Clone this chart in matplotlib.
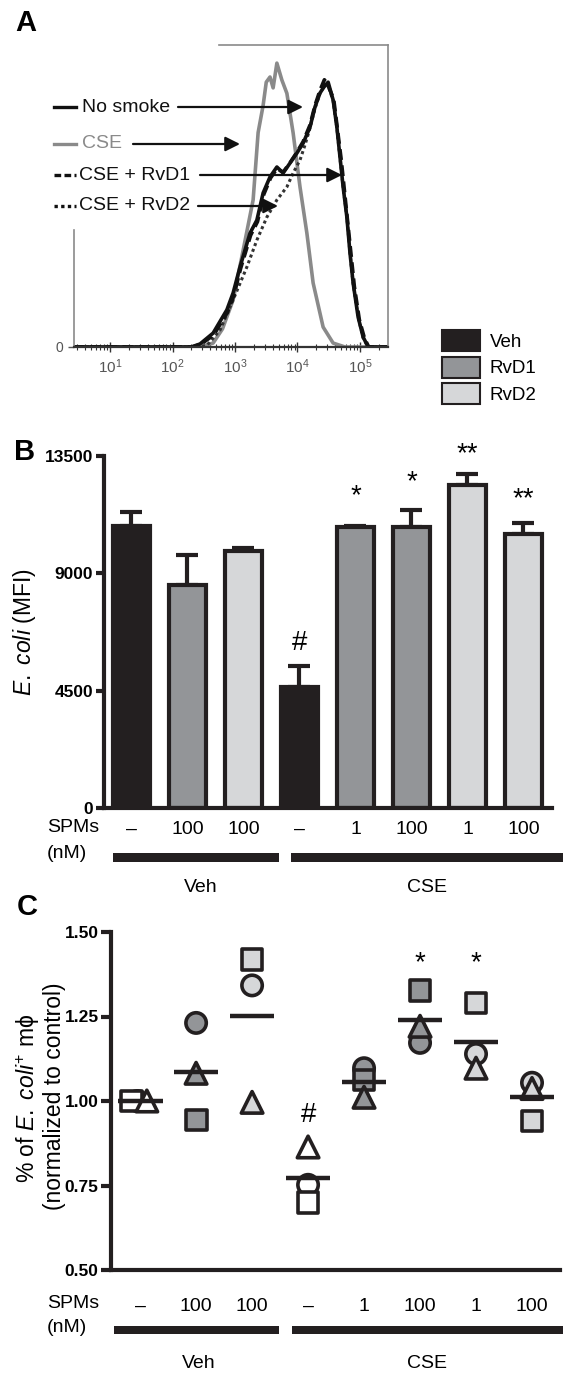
import numpy as np
import matplotlib.pyplot as plt
from matplotlib.patches import Patch, Rectangle

plt.rcParams['font.family'] = ['Liberation Sans', 'DejaVu Sans']
plt.rcParams['mathtext.fontset'] = 'custom'
plt.rcParams['mathtext.rm'] = 'Liberation Sans'
plt.rcParams['mathtext.it'] = 'Liberation Sans:italic'
plt.rcParams['mathtext.bf'] = 'Liberation Sans:bold'

# ---- panel A: flow histograms (log10 fluorescence, % of max) ----
ns_log = [0.42, 2.30, 2.44, 2.65, 2.87, 2.97, 3.08, 3.24, 3.35, 3.45, 3.56, 3.67, 3.77, 3.88, 3.99, 4.09,
          4.20, 4.28, 4.36, 4.42, 4.49, 4.57, 4.63, 4.68, 4.73, 4.79, 4.84, 4.89, 4.97, 5.05, 5.13, 5.45]
ns_cnt = [0, 0, 1, 4.6, 12.3, 17.9, 26.5, 37.7, 42, 51, 56.3, 59.6, 57.6, 60.9, 64.2, 67.5,
          72.8, 79.5, 84.1, 86, 87.7, 81.8, 72.8, 62.9, 53, 43, 31.1, 21.2, 9.9, 3.3, 0, 0]
cse_log = [0.42, 2.40, 2.52, 2.65, 2.80, 2.97, 3.13, 3.29, 3.37, 3.45, 3.50, 3.56, 3.61, 3.67, 3.75, 3.83,
           3.93, 4.04, 4.15, 4.25, 4.41, 4.57, 4.76, 5.45]
cse_cnt = [0, 0, 0.5, 1.3, 6, 15.6, 32, 48.7, 71, 80, 87.7, 89.4, 85.8, 94, 88.4, 84,
           70.9, 53, 37.7, 21.2, 6.6, 1.3, 0, 0]
d1_log = [0.42, 2.32, 2.46, 2.66, 2.88, 2.98, 3.09, 3.25, 3.36, 3.46, 3.57, 3.67, 3.77, 3.88, 3.99, 4.09,
          4.20, 4.28, 4.36, 4.43, 4.48, 4.58, 4.64, 4.70, 4.75, 4.80, 4.86, 4.91, 4.99, 5.07, 5.14, 5.45]
d1_cnt = [0, 0, 1, 4, 11.5, 17, 26, 37, 41.5, 50.5, 56, 59, 57.9, 61, 64.5, 68,
          73.5, 80, 85, 88.5, 87, 82, 72, 62, 52, 42, 30, 20, 9, 3, 0, 0]
d2_log = [0.42, 2.40, 2.55, 2.76, 2.97, 3.19, 3.35, 3.51, 3.67, 3.83, 3.93, 4.04, 4.12, 4.20, 4.28,
          4.36, 4.44, 4.50, 4.57, 4.63, 4.68, 4.73, 4.79, 4.84, 4.89, 4.97, 5.05, 5.13, 5.45]
d2_cnt = [0, 0, 0.5, 5.6, 15.6, 26.5, 35.4, 43, 48.7, 53, 57.6, 61.9, 66.9, 72.5, 79,
          84, 87, 86, 81.5, 72.5, 62.5, 53, 43, 31, 21, 10, 3, 0, 0]

# ---- panel B: bar chart ----
spm_labels = ['\u2013', '100', '100', '\u2013', '1', '100', '1', '100']
mfi = [10800, 8540, 9850, 4650, 10770, 10770, 12400, 10500]
mfi_err = [550, 1180, 140, 780, 60, 650, 415, 420]
treatment = ['Veh', 'RvD1', 'RvD2', 'Veh', 'RvD1', 'RvD1', 'RvD2', 'RvD2']
b_marks = {3: ('#', 6346), 4: ('*', 11962), 5: ('*', 12500), 6: ('**', 13577), 7: ('**', 11846)}

# ---- panel C: normalised uptake, three experiments ----
circle_vals = [1.00, 1.231, 1.342, 0.752, 1.097, 1.172, 1.139, 1.054]
square_vals = [1.00, 0.944, 1.418, 0.700, 1.062, 1.328, 1.290, 0.941]
triangle_vals = [1.00, 1.082, 0.996, 0.864, 1.011, 1.221, 1.097, 1.037]
c_marks = {3: ('#', 0.959), 5: ('*', 1.407), 6: ('*', 1.407)}

colors = {'Veh': '#231f20', 'RvD1': '#939598', 'RvD2': '#d6d7d9'}
pt_fill = {'Veh': 'white', 'RvD1': '#939598', 'RvD2': '#d6d7d9'}
ink = '#231f20'

W, H = 563, 1377
fig = plt.figure(figsize=(W / 100, H / 100), dpi=100)


def box(l, t, r, b):
    return [l / W, 1 - b / H, (r - l) / W, (b - t) / H]


# overlay in pixel units for panel letters, legends and group labels
ov = fig.add_axes([0, 0, 1, 1], zorder=10)
ov.set_xlim(0, W)
ov.set_ylim(H, 0)
ov.axis('off')
ov.patch.set_alpha(0)

# ================= A =================
axA = fig.add_axes(box(74, 45, 388, 347))
axA.plot(10 ** np.array(cse_log), cse_cnt, color='#8a8a8a', lw=2.6)
axA.plot(10 ** np.array(d2_log), d2_cnt, color='#333333', lw=2.2, ls=(0, (1, 1)))
axA.plot(10 ** np.array(ns_log), ns_cnt, color='#111111', lw=2.6)
axA.plot(10 ** np.array(d1_log), d1_cnt, color='#111111', lw=2.6, ls=(0, (3, 1.5)))
axA.set_xscale('log')
axA.set_xlim(10 ** 0.424, 10 ** 5.448)
axA.set_ylim(0, 100)
axA.set_yticks([0])
axA.set_yticklabels(['0'])
for s in ['top', 'right', 'left']:
    axA.spines[s].set_color('#8a8a8a')
    axA.spines[s].set_linewidth(1.2)
axA.spines['bottom'].set_color('#333333')
axA.spines['bottom'].set_linewidth(1.6)
axA.spines['left'].set_bounds(0, 38.7)
axA.spines['top'].set_bounds(10 ** 2.744, 10 ** 5.448)
axA.tick_params(axis='x', which='major', direction='inout', length=7, width=1, colors='#333333',
                labelsize=11, labelcolor='#555555', pad=4)
axA.tick_params(axis='x', which='minor', direction='inout', length=4, width=0.8, colors='#333333')
axA.tick_params(axis='y', length=4, width=1, colors='#555555', labelsize=10)

ov.text(26, 23, 'A', fontsize=21, fontweight='bold', ha='center', va='center')
leg_rows = [('No smoke', 107, '#111111', '-', '#111111', 82, 178, 303),
            ('CSE', 144, '#8a8a8a', '-', '#8a8a8a', 82, 133, 240),
            ('CSE + RvD1', 175, '#111111', (0, (2, 1)), '#111111', 79, 200, 342),
            ('CSE + RvD2', 206, '#111111', (0, (1, 1)), '#111111', 79, 198, 278)]
for lab, y, lc, ls, tc, tx, a0, a1 in leg_rows:
    ov.plot([54, 76], [y, y], color=lc, ls=ls, lw=2.4)
    ov.text(tx, y, lab, color=tc, fontsize=14, va='center', ha='left')
    ov.annotate('', xy=(a1, y), xytext=(a0, y),
                arrowprops=dict(arrowstyle='-|>', lw=1.6, color='#111111', mutation_scale=22,
                                shrinkA=0, shrinkB=0))

# ================= B =================
fig.legend(handles=[Patch(facecolor=colors[k], edgecolor=ink, lw=1.5, label=k) for k in ['Veh', 'RvD1', 'RvD2']],
           loc='upper left', bbox_to_anchor=(442 / W, 1 - 330 / H), bbox_transform=fig.transFigure,
           frameon=False, borderaxespad=0, borderpad=0, handlelength=2.05, handleheight=1.35,
           labelspacing=0.3, handletextpad=0.5, fontsize=13.5)

axB = fig.add_axes(box(104, 456, 552, 808))
xb = np.arange(len(mfi))
axB.errorbar(xb, mfi, yerr=[np.zeros(len(mfi)), mfi_err], fmt='none', ecolor=ink,
             elinewidth=3, capsize=8, capthick=3, zorder=1)
axB.bar(xb, mfi, width=0.66, color=[colors[t] for t in treatment], edgecolor=ink, linewidth=3, zorder=2)
axB.set_xlim(-0.49, 7.51)
axB.set_ylim(0, 13500)
axB.set_yticks([0, 4500, 9000, 13500])
axB.set_xticks(xb)
axB.set_xticklabels(spm_labels, fontsize=14)
for s in ['top', 'right']:
    axB.spines[s].set_visible(False)
for s in ['left', 'bottom']:
    axB.spines[s].set_linewidth(3)
    axB.spines[s].set_color(ink)
axB.tick_params(axis='y', length=6, width=3, color=ink, pad=2, labelsize=12.5)
axB.tick_params(axis='x', length=0, pad=9)
for lbl in axB.get_yticklabels():
    lbl.set_fontweight('bold')
for i, (txt, yv) in b_marks.items():
    axB.text(i, yv, txt, ha='center', va='center', fontsize=20, clip_on=False)

ov.text(25, 452, 'B', fontsize=21, fontweight='bold', ha='center', va='center')
ov.text(25, 632, r'$\mathit{E.\ coli}$ (MFI)', rotation=90, fontsize=16.5, ha='center', va='center')
ov.text(47, 828, 'SPMs', fontsize=14, ha='left', va='center')
ov.text(47, 853, '(nM)', fontsize=14, ha='left', va='center')
ov.add_patch(Rectangle((113, 853), 166, 9, color=ink, lw=0))
ov.add_patch(Rectangle((291, 853), 272, 9, color=ink, lw=0))
ov.text(201, 888, 'Veh', fontsize=14, ha='center', va='center')
ov.text(427, 888, 'CSE', fontsize=14, ha='center', va='center')

# ================= C =================
axC = fig.add_axes(box(111, 932, 560, 1270))
xc = np.arange(len(circle_vals))
fills = [pt_fill[t] for t in treatment]
jit_c = np.array([-0.05, 0, 0, 0, 0, 0, 0, 0])
jit_s = np.array([-0.16, 0, 0, 0, 0, 0, 0, 0])
jit_t = np.array([0.12, 0, 0, 0, 0, 0, 0, 0])
axC.scatter(xc + jit_c, circle_vals, marker='o', s=215, c=fills, edgecolors=ink, linewidths=2.6, zorder=3)
axC.scatter(xc + jit_s, square_vals, marker='s', s=225, c=fills, edgecolors=ink, linewidths=2.6, zorder=4)
axC.scatter(xc + jit_t, triangle_vals, marker='^', s=240, c=fills, edgecolors=ink, linewidths=2.6, zorder=5)
means = np.mean([circle_vals, square_vals, triangle_vals], axis=0)
axC.hlines(means, xc - 0.4, xc + 0.4, color=ink, lw=3.2, zorder=6)
axC.set_xlim(-0.52, 7.5)
axC.set_ylim(0.5, 1.5)
axC.set_yticks([0.5, 0.75, 1.0, 1.25, 1.5])
axC.set_yticklabels(['0.50', '0.75', '1.00', '1.25', '1.50'])
axC.set_xticks(xc)
axC.set_xticklabels(spm_labels, fontsize=14)
for s in ['top', 'right']:
    axC.spines[s].set_visible(False)
for s in ['left', 'bottom']:
    axC.spines[s].set_linewidth(3)
    axC.spines[s].set_color(ink)
axC.tick_params(axis='y', length=7, width=3, color=ink, pad=2, labelsize=12.5)
axC.tick_params(axis='x', length=0, pad=20)
for lbl in axC.get_yticklabels():
    lbl.set_fontweight('bold')
for i, (txt, yv) in c_marks.items():
    axC.text(i, yv, txt, ha='center', va='center', fontsize=20, clip_on=False)

ov.text(27, 907, 'C', fontsize=21, fontweight='bold', ha='center', va='center')
ov.text(28, 1098, '% of $\\mathit{E.\\ coli}^{+}$ m\u03d5', rotation=90, fontsize=16.5, ha='center', va='center')
ov.text(54, 1096, '(normalized to control)', rotation=90, fontsize=16.5, ha='center', va='center')
ov.text(47, 1303, 'SPMs', fontsize=14, ha='left', va='center')
ov.text(47, 1328, '(nM)', fontsize=14, ha='left', va='center')
ov.add_patch(Rectangle((114, 1326), 165, 8, color=ink, lw=0))
ov.add_patch(Rectangle((292, 1326), 271, 8, color=ink, lw=0))
ov.text(199, 1364, 'Veh', fontsize=14, ha='center', va='center')
ov.text(427, 1364, 'CSE', fontsize=14, ha='center', va='center')

fig.savefig('out.png', dpi=100)
